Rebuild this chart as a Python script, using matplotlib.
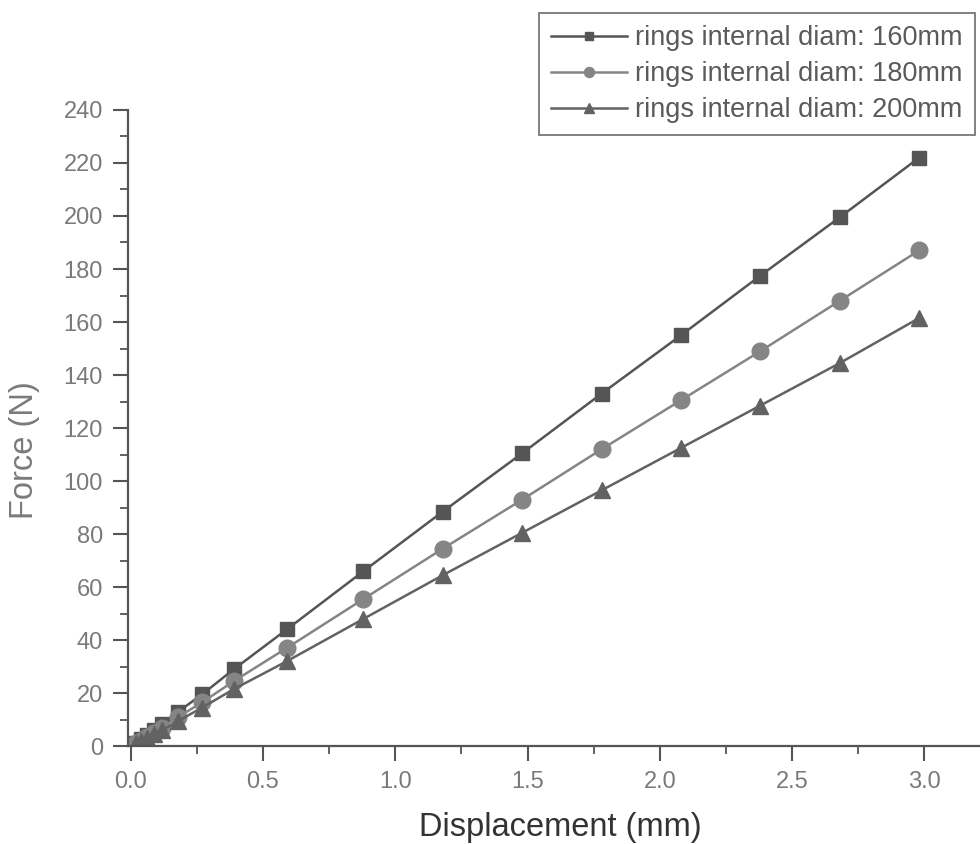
import matplotlib
matplotlib.use("Agg")
import matplotlib.pyplot as plt
from matplotlib.ticker import MultipleLocator

plt.rcParams['font.family'] = ['Liberation Sans', 'DejaVu Sans']

displacement = [0.02, 0.04, 0.06, 0.09, 0.12, 0.18, 0.27, 0.39, 0.59, 0.88,
                1.18, 1.48, 1.78, 2.08, 2.38, 2.68, 2.98]
force_160 = [1, 2.5, 4, 6, 8.5, 13, 19.5, 29, 44, 66,
             88.5, 110.5, 133, 155, 177.5, 199.5, 222]
force_180 = [1, 2, 3.5, 5, 7, 11, 16.5, 24.5, 37, 55.5,
             74.5, 93, 112, 130.5, 149, 168, 187]
force_200 = [1, 2, 3, 4.5, 6, 9.5, 14.5, 21.5, 32, 48,
             64.5, 80.5, 96.5, 112.5, 128.5, 144.5, 161.5]
labels = ['rings internal diam: 160mm', 'rings internal diam: 180mm',
          'rings internal diam: 200mm']

fig = plt.figure(figsize=(9.8, 8.44), dpi=100)
ax = fig.add_axes([0.1306, 0.116, 0.8694, 0.7537])

ax.plot(displacement, force_160, color='#555555', lw=1.8, marker='s', ms=10.5,
        label=labels[0])
ax.plot(displacement, force_180, color='#858585', lw=1.8, marker='o', ms=12,
        label=labels[1])
ax.plot(displacement, force_200, color='#626262', lw=1.8, marker='^', ms=12,
        label=labels[2])

ax.set_xlim(-0.01, 3.21)
ax.set_ylim(0, 240)
ax.xaxis.set_major_locator(MultipleLocator(0.5))
ax.xaxis.set_minor_locator(MultipleLocator(0.25))
ax.yaxis.set_major_locator(MultipleLocator(20))
ax.yaxis.set_minor_locator(MultipleLocator(10))
ax.set_xticks([0, 0.5, 1.0, 1.5, 2.0, 2.5, 3.0])
ax.set_xticklabels(['0.0', '0.5', '1.0', '1.5', '2.0', '2.5', '3.0'])

for s in ['top', 'right']:
    ax.spines[s].set_visible(False)
for s in ['left', 'bottom']:
    ax.spines[s].set_color('#555555')
    ax.spines[s].set_linewidth(1.6)

ax.tick_params(which='major', length=11, width=1.5, color='#555555',
               labelsize=17, labelcolor='#7a7a7a', direction='out', pad=7)
ax.tick_params(which='minor', length=6, width=1.3, color='#555555',
               direction='out')

ax.set_xlabel('Displacement (mm)', fontsize=23.5, color='#333333')
ax.xaxis.set_label_coords(0.508, -0.103)
ax.set_ylabel('Force (N)', fontsize=23.5, color='#7a7a7a')
ax.yaxis.set_label_coords(-0.103, 0.465)

leg = ax.legend(loc='upper right', bbox_to_anchor=(0.994, 1.1525),
                fontsize=19.5, frameon=True, fancybox=False, edgecolor='#555555',
                handlelength=2.8, labelcolor='#5a5a5a', borderpad=0.45,
                labelspacing=0.37, handletextpad=0.3, markerscale=0.6,
                borderaxespad=0)
leg.get_frame().set_linewidth(1.3)

fig.savefig('out.png', dpi=100)
